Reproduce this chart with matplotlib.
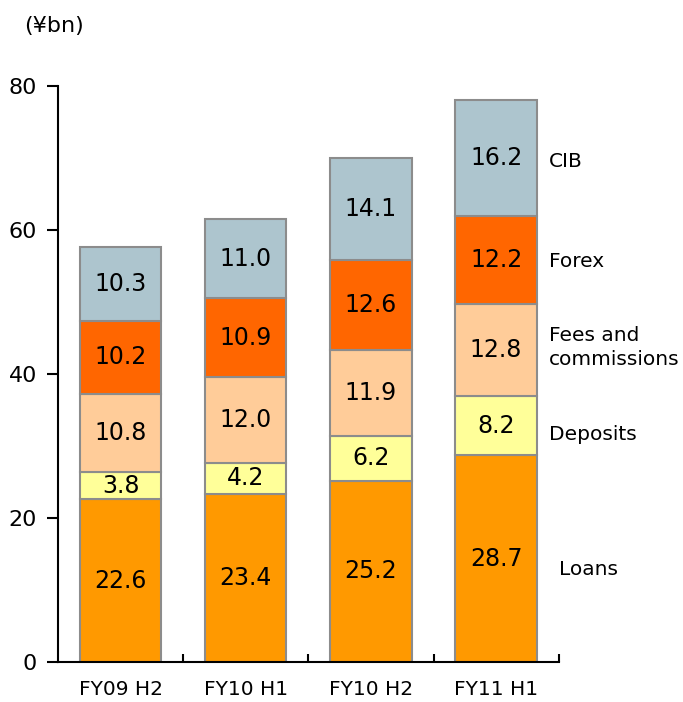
import numpy as np
from matplotlib import pyplot as plt

plt.rcParams['font.family'] = ['DejaVu Sans']

periods = ['FY09 H2', 'FY10 H1', 'FY10 H2', 'FY11 H1']
segments = ['Loans', 'Deposits', 'Fees and\ncommissions', 'Forex', 'CIB']
loans = [22.6, 23.4, 25.2, 28.7]
deposits = [3.8, 4.2, 6.2, 8.2]
fees = [10.8, 12.0, 11.9, 12.8]
forex = [10.2, 10.9, 12.6, 12.2]
cib = [10.3, 11.0, 14.1, 16.2]
colors = ['#FF9900', '#FFFF99', '#FFCC99', '#FF6600', '#ADC5CE']

series = [loans, deposits, fees, forex, cib]
# small nudges for the segment names at the right
name_dy = [-1.5, -1.2, 0.4, -0.2, -0.5]
name_dx = [0.08, 0.0, 0.0, 0.0, 0.0]

fig = plt.figure(figsize=(6.83, 7.02), dpi=100)
ax = fig.add_axes([0.085, 0.057, 0.733, 0.8205])

x = np.arange(len(periods))
bottom = np.zeros(len(periods))
for vals, col in zip(series, colors):
    vals = np.array(vals)
    ax.bar(x, vals, 0.65, bottom=bottom, color=col, edgecolor='#8C8C8C',
           linewidth=1.5, zorder=2)
    for xi, b, v in zip(x, bottom, vals):
        ax.text(xi, b + v / 2, '%.1f' % v, ha='center', va='center',
                fontsize=17, color='black', zorder=3)
    bottom = bottom + vals

# segment names beside the last bar
last_bottom = 0
for i, name in enumerate(segments):
    v = series[i][-1]
    ax.text(x[-1] + 0.42 + name_dx[i], last_bottom + v / 2 + name_dy[i], name,
            ha='left', va='center', fontsize=14.5, linespacing=1.3,
            clip_on=False)
    last_bottom += v

ax.set_xlim(-0.5, 3.5)
ax.set_ylim(0, 80)
ax.set_yticks([0, 20, 40, 60, 80])
ax.set_xticks(x)
ax.set_xticklabels(periods, fontsize=14.5)
ax.set_xticks([0.5, 1.5, 2.5, 3.5], minor=True)
ax.tick_params(axis='x', which='major', length=0, pad=13)
ax.tick_params(axis='x', which='minor', direction='in', length=6, width=1.5)
ax.tick_params(axis='y', direction='out', length=8, width=1.5, labelsize=16,
               pad=7)
for s in ['top', 'right']:
    ax.spines[s].set_visible(False)
for s in ['left', 'bottom']:
    ax.spines[s].set_linewidth(1.5)

fig.text(0.036, 0.963, '(¥bn)', fontsize=16, va='center', ha='left')

plt.savefig('out.png', dpi=100)
